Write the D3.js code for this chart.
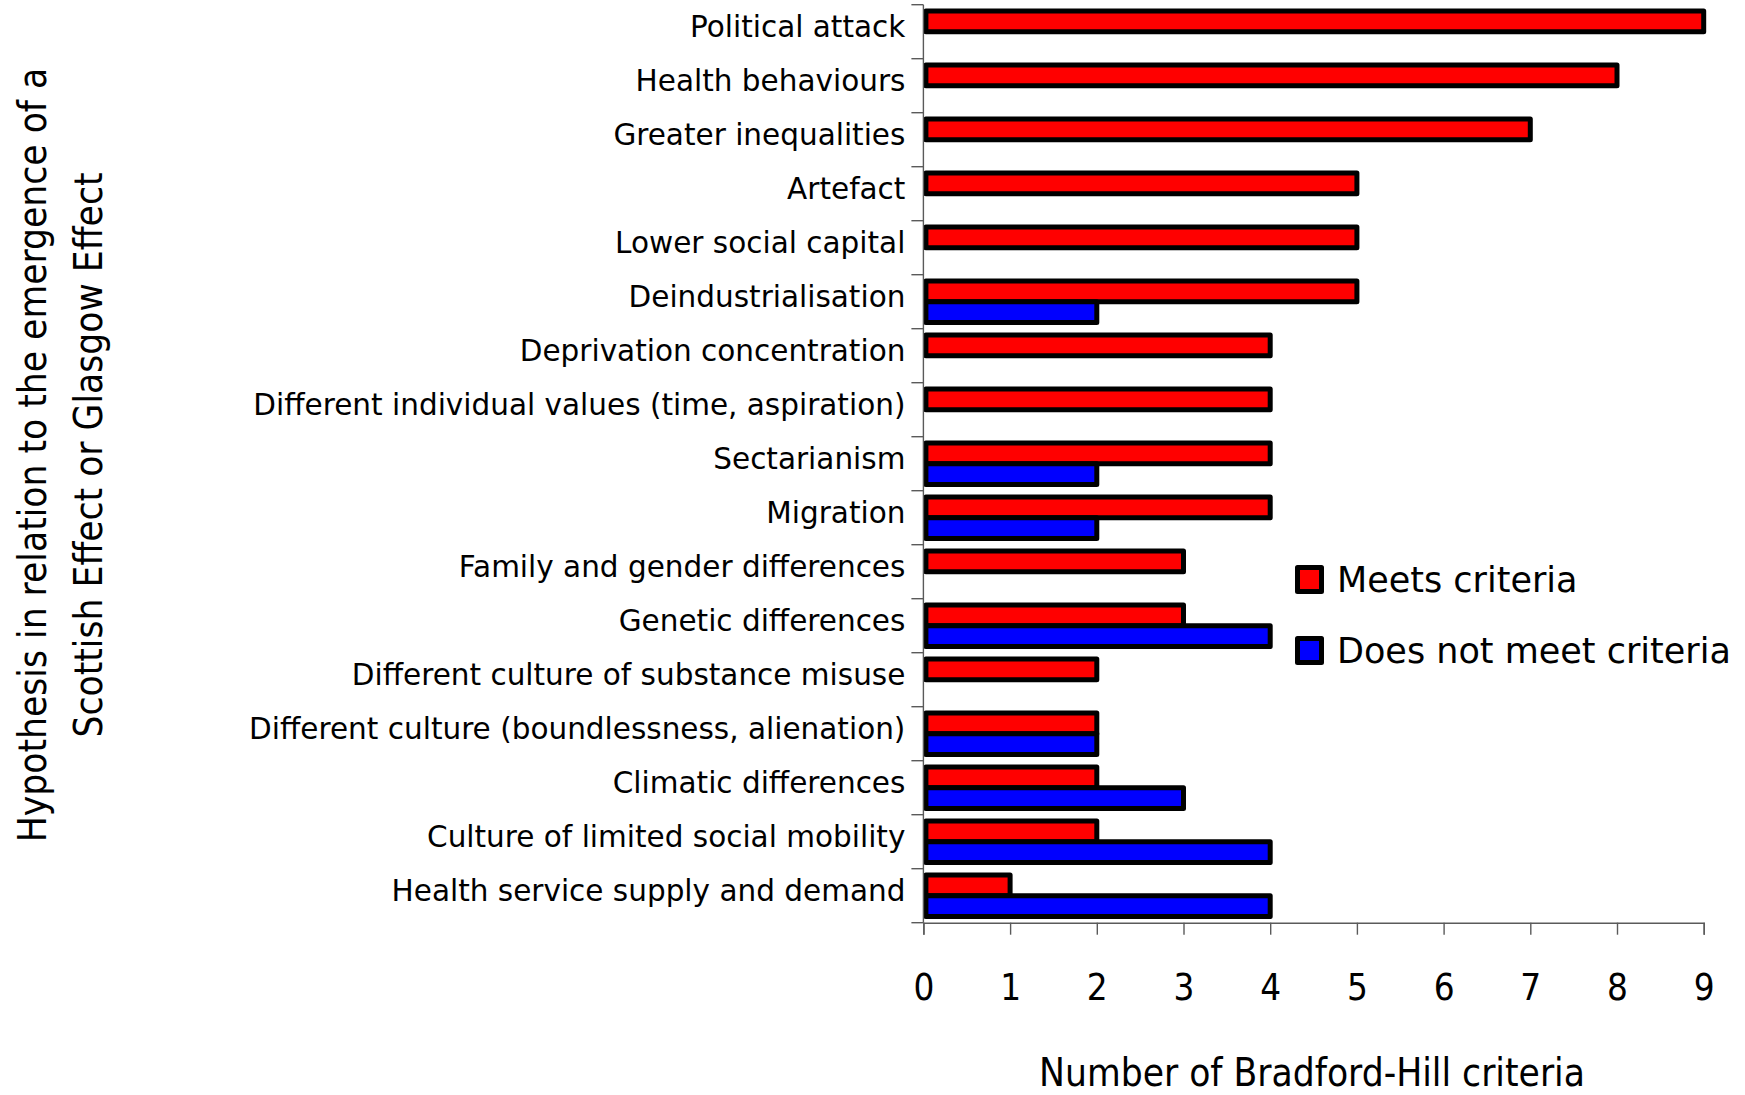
<!DOCTYPE html>
<html>
<head>
<meta charset="utf-8">
<script src="https://cdn.jsdelivr.net/npm/d3@7"></script>
<style>
  html, body { margin: 0; padding: 0; background: #fff; }
  svg { display: block; }
  .cat-label { font-family: "DejaVu Sans", sans-serif; font-size: 29.5px; fill: #000; }
  .legend-label { font-family: "DejaVu Sans", sans-serif; font-size: 35px; fill: #000; }
  .cond { font-family: "DejaVu Sans Condensed", "DejaVu Sans", sans-serif; font-stretch: condensed; fill: #000; }
</style>
</head>
<body>
<svg id="chart" width="1745" height="1095"></svg>
<script>
// Hypotheses, listed top to bottom
const categories = [
  "Political attack",
  "Health behaviours",
  "Greater inequalities",
  "Artefact",
  "Lower social capital",
  "Deindustrialisation",
  "Deprivation concentration",
  "Different individual values (time, aspiration)",
  "Sectarianism",
  "Migration",
  "Family and gender differences",
  "Genetic differences",
  "Different culture of substance misuse",
  "Different culture (boundlessness, alienation)",
  "Climatic differences",
  "Culture of limited social mobility",
  "Health service supply and demand"
];

// Number of Bradford-Hill criteria met / not met per hypothesis
const meetsCriteria =        [9, 8, 7, 5, 5, 5, 4, 4, 4, 4, 3, 3, 2, 2, 2, 2, 1];
const doesNotMeetCriteria =  [0, 0, 0, 0, 0, 2, 0, 0, 2, 2, 0, 4, 0, 2, 3, 4, 4];

const xTickValues = [0, 1, 2, 3, 4, 5, 6, 7, 8, 9];

const seriesNames = ["Meets criteria", "Does not meet criteria"];
const seriesColors = ["#ff0000", "#0000ff"];

const svg = d3.select("#chart");
const axisColor = "#5a5a5a";

const x = d3.scaleLinear().domain([0, 9]).range([923.4, 1703.7]);
const y = d3.scaleBand().domain(categories).range([4.7, 922.7]);
const inner = d3.scaleBand().domain(seriesNames).range([0, y.bandwidth()]).paddingOuter(0.3);

const rows = categories.map((c, i) => ({
  category: c,
  values: [meetsCriteria[i], doesNotMeetCriteria[i]]
}));

// keep bar outlines inside the plot area
svg.append("defs").append("clipPath").attr("id", "plot-clip")
  .append("rect")
  .attr("x", x(0)).attr("y", 0)
  .attr("width", x(9) - x(0) + 10).attr("height", y.range()[1] + 2);

// bars
const groups = svg.append("g").attr("clip-path", "url(#plot-clip)")
  .selectAll("g.row").data(rows).join("g")
  .attr("class", "row")
  .attr("transform", d => `translate(0,${y(d.category)})`);

groups.selectAll("rect")
  .data(d => d.values.map((v, k) => ({ series: seriesNames[k], color: seriesColors[k], value: v })).filter(e => e.value > 0))
  .join("rect")
  .attr("x", x(0) + 2.5)
  .attr("y", d => inner(d.series))
  .attr("width", d => x(d.value) - x(0) - 2.5)
  .attr("height", inner.bandwidth())
  .attr("fill", d => d.color)
  .attr("stroke", "#000")
  .attr("stroke-width", 5)
  .attr("stroke-linejoin", "round");

// category axis: line plus ticks between categories
const yAxis = svg.append("g");
yAxis.append("line")
  .attr("x1", x(0)).attr("x2", x(0))
  .attr("y1", y.range()[0]).attr("y2", y.range()[1])
  .attr("stroke", axisColor).attr("stroke-width", 1.4);
const boundaries = categories.map(c => y(c)).concat([y.range()[1]]);
yAxis.selectAll("line.tick").data(boundaries).join("line")
  .attr("class", "tick")
  .attr("x1", x(0) - 12).attr("x2", x(0))
  .attr("y1", d => d).attr("y2", d => d)
  .attr("stroke", axisColor).attr("stroke-width", 1.4);

// category labels
svg.append("g").selectAll("text").data(categories).join("text")
  .attr("class", "cat-label")
  .attr("x", x(0) - 18)
  .attr("y", d => y(d) + y.bandwidth() / 2 + 5.5)
  .attr("text-anchor", "end")
  .text(d => d);

// value axis
const xAxis = svg.append("g")
  .attr("transform", `translate(0,${y.range()[1]})`)
  .call(d3.axisBottom(x).tickValues(xTickValues).tickSize(12).tickPadding(39).tickFormat(d3.format("d")));
xAxis.select(".domain").attr("stroke", axisColor).attr("stroke-width", 1.4);
xAxis.selectAll(".tick line").attr("stroke", axisColor).attr("stroke-width", 1.4);
xAxis.selectAll(".tick text")
  .attr("class", "cond")
  .attr("font-size", null)
  .attr("font-family", null)
  .style("font-size", "36.5px");

// axis titles
svg.append("text")
  .attr("class", "cond")
  .attr("x", 1312)
  .attr("y", 1086)
  .attr("text-anchor", "middle")
  .style("font-size", "38.5px")
  .text("Number of Bradford-Hill criteria");

const yTitle = ["Hypothesis in relation to the emergence of a", "Scottish Effect or Glasgow Effect"];
svg.append("g")
  .attr("transform", "translate(46,455) rotate(-90)")
  .selectAll("text").data(yTitle).join("text")
  .attr("class", "cond")
  .attr("x", 0)
  .attr("y", (d, i) => i * 56)
  .attr("text-anchor", "middle")
  .style("font-size", "38.5px")
  .text(d => d);

// legend
const legend = svg.append("g").attr("transform", "translate(1297.5,567.5)");
const items = legend.selectAll("g").data(seriesNames).join("g")
  .attr("transform", (d, i) => `translate(0,${i * 71})`);
items.append("rect")
  .attr("width", 24).attr("height", 24)
  .attr("fill", (d, i) => seriesColors[i])
  .attr("stroke", "#000").attr("stroke-width", 5)
  .attr("stroke-linejoin", "round");
items.append("text")
  .attr("class", "legend-label")
  .attr("x", 39.5)
  .attr("y", 24.5)
  .text(d => d);
</script>
</body>
</html>
